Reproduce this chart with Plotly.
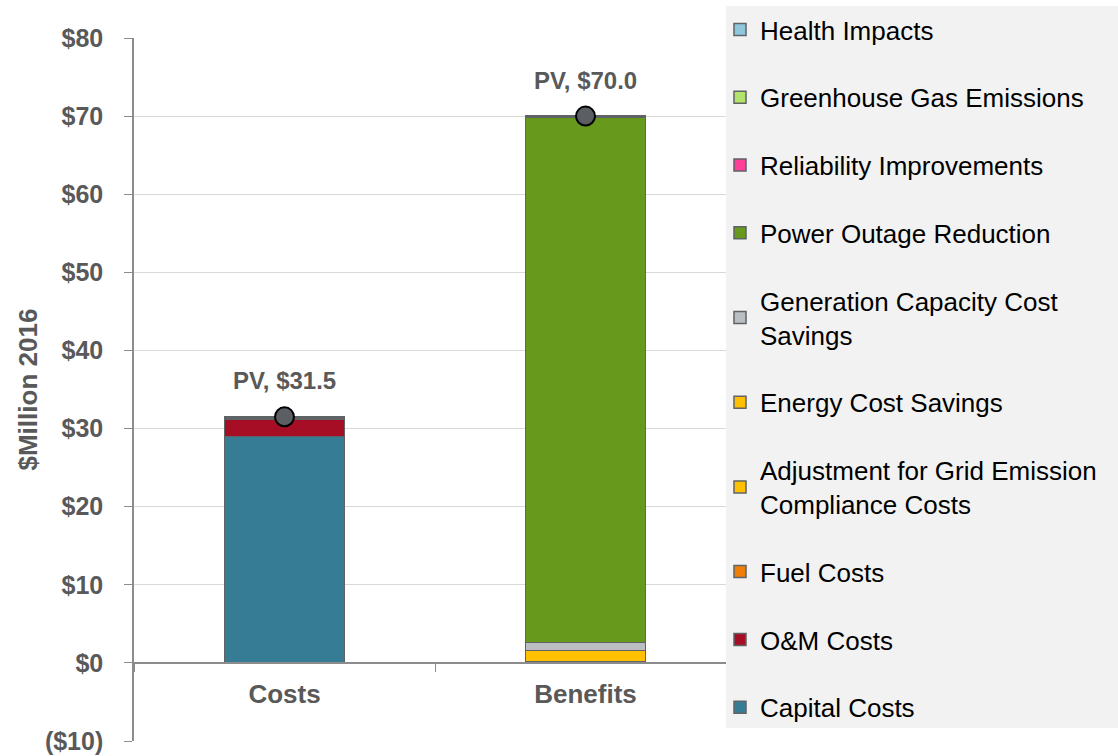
import plotly.graph_objects as go

categories = ["Costs", "Benefits"]

capital_costs = [29.0, None]
om_costs = [2.2, None]
fuel_costs = [0.3, None]
grid_adjustment = [None, 0.1]
energy_savings = [None, 1.5]
gen_capacity_savings = [None, 1.0]
outage_reduction = [None, 67.2]
reliability = [None, None]
ghg_emissions = [None, 0.1]
health_impacts = [None, 0.1]

pv_totals = [31.5, 70.0]
pv_labels = ["PV, $31.5", "PV, $70.0"]

y_tickvals = [-10, 0, 10, 20, 30, 40, 50, 60, 70, 80]
y_ticktext = ["($10)", "$0", "$10", "$20", "$30", "$40", "$50", "$60", "$70", "$80"]
y_title = "$Million 2016"

series = [
    ("Capital Costs", capital_costs, "#367c94"),
    ("O&M Costs", om_costs, "#a50e24"),
    ("Fuel Costs", fuel_costs, "#f07f09"),
    ("Adjustment for Grid Emission<br>Compliance Costs", grid_adjustment, "#ffc000"),
    ("Energy Cost Savings", energy_savings, "#ffc000"),
    ("Generation Capacity Cost<br>Savings", gen_capacity_savings, "#bcbfc2"),
    ("Power Outage Reduction", outage_reduction, "#66991c"),
    ("Reliability Improvements", reliability, "#ff3f98"),
    ("Greenhouse Gas Emissions", ghg_emissions, "#b3e36b"),
    ("Health Impacts", health_impacts, "#8fc8dc"),
]

FONT = "Liberation Sans, Arial, sans-serif"
GRAY = "#595959"

fig = go.Figure()
n = len(series)
for i, (name, vals, color) in enumerate(series):
    fig.add_trace(go.Bar(
        x=categories, y=vals, name=name, legendgroup=f"g{i}",
        legendrank=n - i,
        marker=dict(color=color, line=dict(color="#5f6366", width=1.5)),
        width=0.4,
    ))

fig.add_trace(go.Scatter(
    x=categories, y=pv_totals, mode="markers", showlegend=False,
    marker=dict(size=19, color="#5b5f63", line=dict(color="black", width=2)),
))

for c, v, t in zip(categories, pv_totals, pv_labels):
    fig.add_annotation(x=c, y=v, text=t, showarrow=False, yshift=36,
                       yanchor="middle",
                       font=dict(family=FONT, size=24, color=GRAY, weight="bold"))

# y-axis title placed as rotated annotation
fig.add_annotation(xref="paper", yref="paper", x=(27 - 134) / 602, y=0.5,
                   text=y_title, textangle=-90, showarrow=False,
                   xanchor="center", yanchor="middle",
                   font=dict(family=FONT, size=26, color=GRAY, weight="bold"))

fig.add_shape(type="rect", xref="paper", yref="paper",
              x0=(726 - 134) / 602, x1=(1118 - 134) / 602,
              y0=(741 - 728) / 703, y1=(741 - 6) / 703,
              fillcolor="#f2f2f2", line=dict(width=0), layer="above")

fig.update_layout(
    barmode="stack",
    width=1118, height=756,
    margin=dict(l=134, r=382, t=38, b=15, autoexpand=False),
    plot_bgcolor="white", paper_bgcolor="white",
    font=dict(family=FONT),
    showlegend=True,
    legend=dict(
        xref="container", yref="container",
        x=720 / 1118, y=1 - 6 / 756, xanchor="left", yanchor="top",
        bgcolor="rgba(0,0,0,0)",
        font=dict(family=FONT, size=26, color="black"),
        traceorder="grouped",
        tracegroupgap=31,
        itemwidth=30,
        maxheight=750,
    ),
    xaxis=dict(
        anchor="free", position=78 / 703, automargin=False,
        showline=True, linecolor="#8c8c8c", linewidth=1.5,
        ticks="outside", tickson="boundaries", ticklen=8, tickcolor="#8c8c8c",
        tickfont=dict(family=FONT, size=26, color=GRAY, weight="bold"),
        ticklabelstandoff=8,
        showgrid=False, range=[-0.5, 1.5],
    ),
    yaxis=dict(
        range=[-10, 80], tickvals=y_tickvals, ticktext=y_ticktext,
        automargin=False,
        showline=True, linecolor="#8c8c8c", linewidth=1.5,
        ticks="outside", ticklen=8, tickcolor="#8c8c8c",
        tickfont=dict(family=FONT, size=25, color=GRAY, weight="bold"),
        ticklabelstandoff=16,
        showgrid=True, gridcolor="#d9d9d9", gridwidth=1,
        zeroline=False,
    ),
)

fig.write_html("out.html", config={"displayModeBar": False},
               post_script="document.body.style.margin='0';document.body.style.overflow='hidden';")
